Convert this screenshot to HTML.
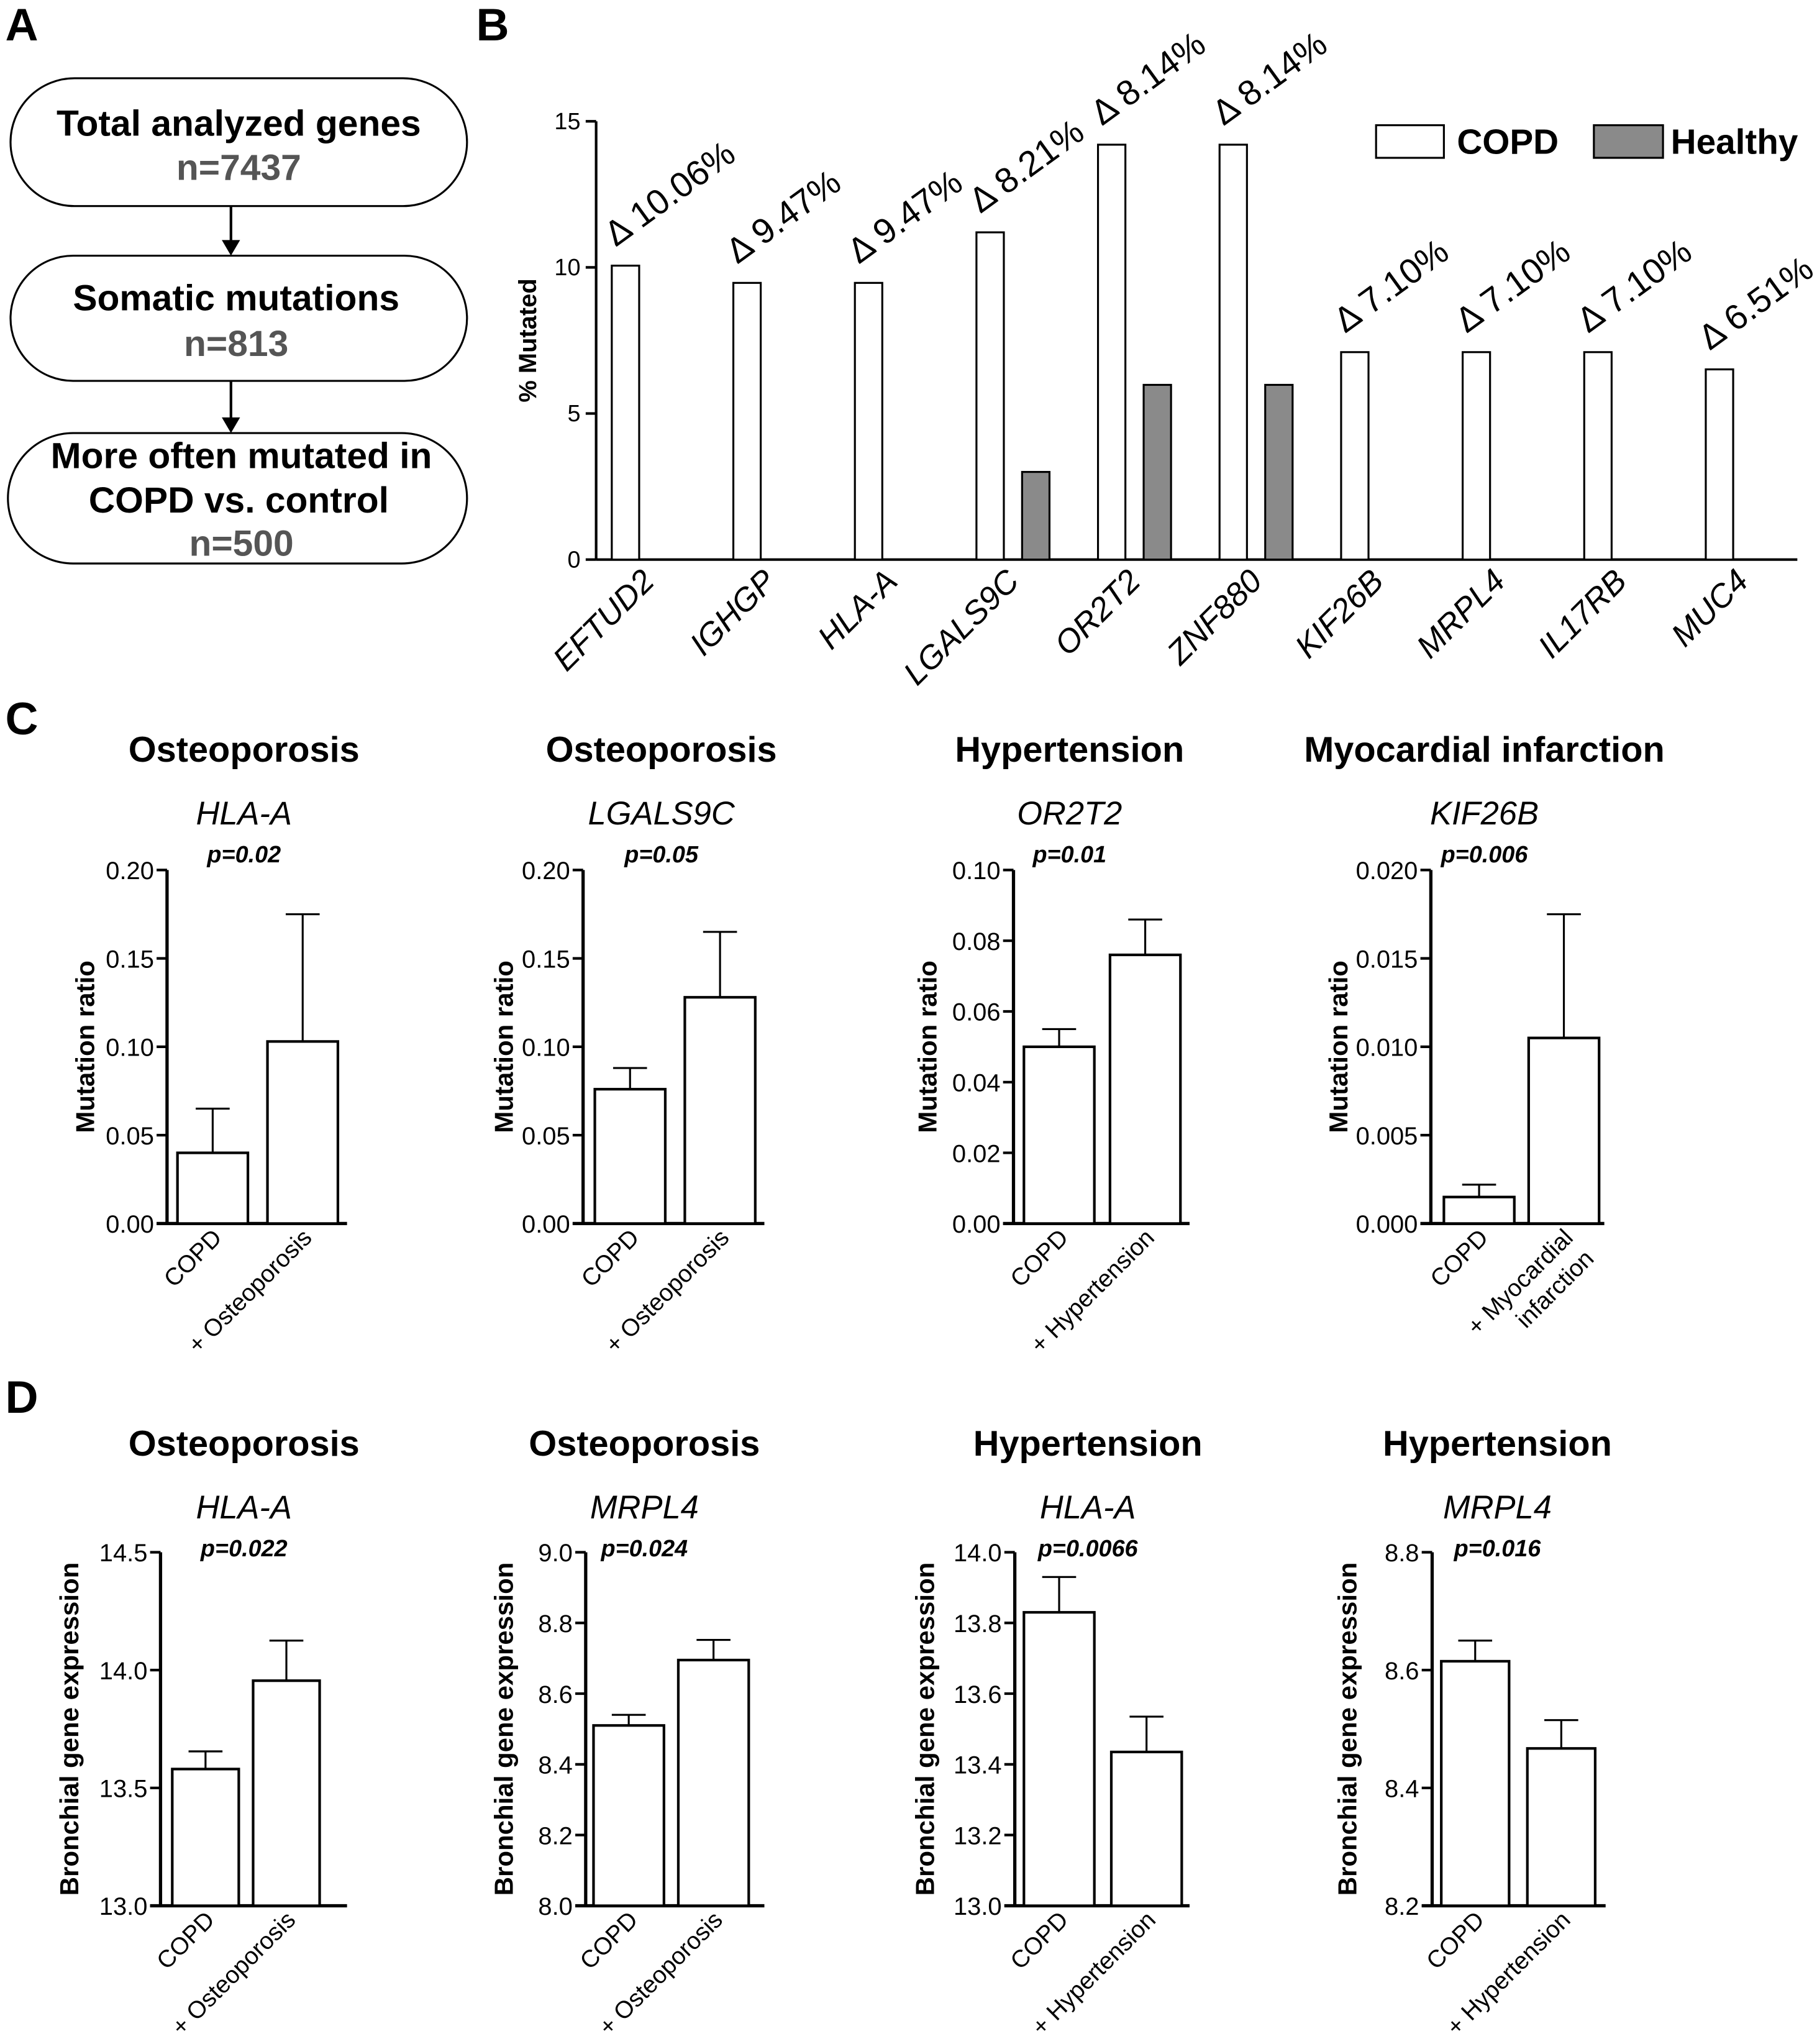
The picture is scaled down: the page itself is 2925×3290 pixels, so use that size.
<!DOCTYPE html>
<html><head><meta charset="utf-8"><style>
html,body{margin:0;padding:0;background:#fff}
svg{display:block}
text{font-family:"Liberation Sans",Arial,sans-serif;fill:#000}
</style></head><body>
<svg id="fig" xmlns="http://www.w3.org/2000/svg" width="2925" height="3290" viewBox="0 0 1393 1567">
<rect width="1393" height="1567" fill="#fff"/>
<g id="panelA">
<text x="4" y="31" font-size="35" font-weight="bold">A</text>
<rect x="8" y="60" width="350" height="98" rx="49" fill="#fff" stroke="#000" stroke-width="1.5"/>
<text x="183" y="104" font-size="28" font-weight="bold" text-anchor="middle">Total analyzed genes</text>
<text x="183" y="138" font-size="28" font-weight="bold" style="fill:#555" text-anchor="middle">n=7437</text>
<line x1="177" y1="158" x2="177" y2="188" stroke="#000" stroke-width="2"/>
<polygon points="170,184 184,184 177,196" fill="#000"/>
<rect x="8" y="196" width="350" height="96" rx="48" fill="#fff" stroke="#000" stroke-width="1.5"/>
<text x="181" y="238" font-size="28" font-weight="bold" text-anchor="middle">Somatic mutations</text>
<text x="181" y="273" font-size="28" font-weight="bold" style="fill:#555" text-anchor="middle">n=813</text>
<line x1="177" y1="292" x2="177" y2="324" stroke="#000" stroke-width="2"/>
<polygon points="170,320 184,320 177,332" fill="#000"/>
<rect x="6" y="332" width="352" height="100" rx="50" fill="#fff" stroke="#000" stroke-width="1.5"/>
<text x="185" y="359" font-size="28" font-weight="bold" text-anchor="middle">More often mutated in</text>
<text x="183" y="393" font-size="28" font-weight="bold" text-anchor="middle">COPD vs. control</text>
<text x="185" y="426" font-size="28" font-weight="bold" style="fill:#555" text-anchor="middle">n=500</text>
</g>
<g id="panelB"></g>
<g id="panelC"></g>
<g id="panelD"></g>
</svg>
<script>
// Panel B data
const bGenes = ["EFTUD2","IGHGP","HLA-A","LGALS9C","OR2T2","ZNF880","KIF26B","MRPL4","IL17RB","MUC4"];
const bCopd = [10.06,9.47,9.47,11.2,14.2,14.2,7.10,7.10,7.10,6.51];
const bHealthy = [0,0,0,3.0,5.98,5.98,0,0,0,0];
const bDelta = ["Δ 10.06%","Δ 9.47%","Δ 9.47%","Δ 8.21%","Δ 8.14%","Δ 8.14%","Δ 7.10%","Δ 7.10%","Δ 7.10%","Δ 6.51%"];
const bTicks = [0,5,10,15];

// Panel C data
const cTitles = ["Osteoporosis","Osteoporosis","Hypertension","Myocardial infarction"];
const cGenes = ["HLA-A","LGALS9C","OR2T2","KIF26B"];
const cP = ["p=0.02","p=0.05","p=0.01","p=0.006"];
const cCopd = [0.040,0.076,0.050,0.0015];
const cDis = [0.103,0.128,0.076,0.0105];
const cCopdErr = [0.065,0.088,0.055,0.0022];
const cDisErr = [0.175,0.165,0.086,0.0175];
const cMax = [0.20,0.20,0.10,0.020];
const cTickLabels = [["0.00","0.05","0.10","0.15","0.20"],["0.00","0.05","0.10","0.15","0.20"],["0.00","0.02","0.04","0.06","0.08","0.10"],["0.000","0.005","0.010","0.015","0.020"]];
const cXLabels = [["+ Osteoporosis"],["+ Osteoporosis"],["+ Hypertension"],["+ Myocardial","infarction"]];

// Panel D data
const dTitles = ["Osteoporosis","Osteoporosis","Hypertension","Hypertension"];
const dGenes = ["HLA-A","MRPL4","HLA-A","MRPL4"];
const dP = ["p=0.022","p=0.024","p=0.0066","p=0.016"];
const dCopd = [13.58,8.51,13.83,8.615];
const dDis = [13.955,8.695,13.435,8.467];
const dCopdErr = [13.655,8.54,13.93,8.65];
const dDisErr = [14.125,8.752,13.535,8.515];
const dMin = [13.0,8.0,13.0,8.2];
const dMax = [14.5,9.0,14.0,8.8];
const dTickLabels = [["13.0","13.5","14.0","14.5"],["8.0","8.2","8.4","8.6","8.8","9.0"],["13.0","13.2","13.4","13.6","13.8","14.0"],["8.2","8.4","8.6","8.8"]];
const dXLabels = ["+ Osteoporosis","+ Osteoporosis","+ Hypertension","+ Hypertension"];

const NS="http://www.w3.org/2000/svg";
function mk(parent,tag,attrs,txt){const e=document.createElementNS(NS,tag);for(const k in attrs)e.setAttribute(k,attrs[k]);if(txt!==undefined)e.textContent=txt;parent.appendChild(e);return e;}

// ---- Panel B ----
(function(){
const g=document.getElementById('panelB');
const ax=457,y0=429,yTop=93,yMax=15;
const ys=v=>y0-(v/yMax)*(y0-yTop);
const xs=i=>469+i*93.2;
let t=mk(g,'text',{x:365,y:31,'font-size':35,'font-weight':'bold'},'B');


let l=mk(g,'line',{x1:ax,y1:yTop,x2:ax,y2:y0,stroke:'#000','stroke-width':2});


l=mk(g,'line',{x1:ax,y1:y0,x2:1378,y2:y0,stroke:'#000','stroke-width':2});


bTicks.forEach(v=>{
 mk(g,'line',{x1:ax-8,y1:ys(v),x2:ax,y2:ys(v),stroke:'#000','stroke-width':2});
 const tt=mk(g,'text',{x:ax-12,y:ys(v)+6,'font-size':18,'text-anchor':'end'},String(v));
 
 
});
t=mk(g,'text',{x:0,y:0,'font-size':19,'font-weight':'bold','text-anchor':'middle',transform:'translate(411,261) rotate(-90)'},'% Mutated');


bGenes.forEach((gname,i)=>{
 const x=xs(i);
 const r=mk(g,'rect',{x:x,y:ys(bCopd[i]),width:21,height:y0-ys(bCopd[i]),fill:'#fff',stroke:'#000','stroke-width':1.5});
 
 
 if(bHealthy[i]>0){
  const h=mk(g,'rect',{x:x+35,y:ys(bHealthy[i]),width:21,height:y0-ys(bHealthy[i]),fill:'#8a8a8a',stroke:'#000','stroke-width':1.5});
  
  
 }
 const dl=mk(g,'text',{x:0,y:0,'font-size':27,transform:`translate(${x+3},${ys(bCopd[i])-14}) rotate(-36)`},bDelta[i]);
 
 
 const gl=mk(g,'text',{x:0,y:0,'font-size':25,'font-style':'italic','text-anchor':'end',transform:`translate(${x+34},${y0+18}) rotate(-45)`},gname);
 
 
});
let lg=mk(g,'rect',{x:1055,y:96,width:52,height:25,fill:'#fff',stroke:'#000','stroke-width':1.5});


t=mk(g,'text',{x:1117,y:118,'font-size':27,'font-weight':'bold'},'COPD');


lg=mk(g,'rect',{x:1222,y:96,width:53,height:25,fill:'#8a8a8a',stroke:'#000','stroke-width':1.5});


t=mk(g,'text',{x:1281,y:118,'font-size':27,'font-weight':'bold'},'Healthy');


})();

function smallChart(g,o){
 const ys=v=>o.y0-(v-o.min)/(o.max-o.min)*(o.y0-o.yTop);
 let t=mk(g,'text',{x:o.cx,y:o.titleY,'font-size':27.5,'font-weight':'bold','text-anchor':'middle'},o.title);
 
 
 t=mk(g,'text',{x:o.cx,y:o.titleY+48,'font-size':25,'font-style':'italic','text-anchor':'middle'},o.gene);
 
 
 t=mk(g,'text',{x:o.cx,y:o.titleY+77,'font-size':18,'font-style':'italic','font-weight':'bold','text-anchor':'middle'},o.p);
 
 
 let l=mk(g,'line',{x1:o.ax,y1:o.yTop,x2:o.ax,y2:o.y0,stroke:'#000','stroke-width':2.5});
 
 
 l=mk(g,'line',{x1:o.ax-8,y1:o.y0,x2:o.axEnd,y2:o.y0,stroke:'#000','stroke-width':2.5});
 
 
 const n=o.ticks.length;
 o.ticks.forEach((lab,k)=>{
  const v=o.min+(o.max-o.min)*k/(n-1);
  mk(g,'line',{x1:o.ax-8,y1:ys(v),x2:o.ax,y2:ys(v),stroke:'#000','stroke-width':2});
  const tt=mk(g,'text',{x:o.ax-10,y:ys(v)+7,'font-size':19,'text-anchor':'end'},lab);
  
  
 });
 t=mk(g,'text',{x:0,y:0,'font-size':20,'font-weight':'bold','text-anchor':'middle',transform:`translate(${o.ylx},${(o.yTop+o.y0)/2}) rotate(-90)`},o.ylab);
 
 
 const bars=[[o.b1,o.v1,o.e1,'bar-copd'],[o.b2,o.v2,o.e2,'bar-comorbidity']];
 bars.forEach(([bx,v,e,nm])=>{
  const mid=bx+o.bw/2;
  const el=mk(g,'line',{x1:mid,y1:ys(v),x2:mid,y2:ys(e),stroke:'#000','stroke-width':1.5});
  
  
  mk(g,'line',{x1:mid-13,y1:ys(e),x2:mid+13,y2:ys(e),stroke:'#000','stroke-width':1.5});
  const r=mk(g,'rect',{x:bx,y:ys(v),width:o.bw,height:o.y0-ys(v),fill:'#fff',stroke:'#000','stroke-width':2});
  
  
 });
 const c1=o.b1+o.bw/2+8, c2=o.b2+o.bw/2+8;
 t=mk(g,'text',{x:0,y:0,'font-size':18.5,'text-anchor':'end',transform:`translate(${c1},${o.y0+12}) rotate(-45)`},'COPD');
 
 
 o.xl.forEach((s,k)=>{
  const tt=mk(g,'text',{x:0,y:0,'font-size':18.5,'text-anchor':'end',transform:`translate(${c2+k*16},${o.y0+12+k*16}) rotate(-45)`},s);
  
  
 });
}

// ---- Panel C ----
(function(){
const g=document.getElementById('panelC');
let t=mk(g,'text',{x:4,y:563,'font-size':35,'font-weight':'bold'},'C');


const axs=[128,447,777,1097], axEnds=[266,586,912,1230], b1s=[136,456,785,1107], b2s=[205,525,851,1172], cxs=[187,507,820,1138], ylxs=[72,393,718,1033];
for(let i=0;i<4;i++){
 const sg=mk(g,'g',{});
 
 
 smallChart(sg,{ax:axs[i],axEnd:axEnds[i],y0:938,yTop:667,min:0,max:cMax[i],ticks:cTickLabels[i],b1:b1s[i],b2:b2s[i],bw:54,
  v1:cCopd[i],v2:cDis[i],e1:cCopdErr[i],e2:cDisErr[i],cx:cxs[i],titleY:584,title:cTitles[i],gene:cGenes[i],p:cP[i],ylx:ylxs[i],ylab:'Mutation ratio',xl:cXLabels[i]});
}
})();

// ---- Panel D ----
(function(){
const g=document.getElementById('panelD');
let t=mk(g,'text',{x:4,y:1083,'font-size':35,'font-weight':'bold'},'D');


const axs=[123,449,778,1098], axEnds=[266,586,912,1231], b1s=[132,455,785,1105], b2s=[194,520,852,1171], bws=[51,54,54,52], cxs=[187,494,834,1148], ylxs=[60,393,716,1040];
for(let i=0;i<4;i++){
 const sg=mk(g,'g',{});
 
 
 smallChart(sg,{ax:axs[i],axEnd:axEnds[i],y0:1461,yTop:1190,min:dMin[i],max:dMax[i],ticks:dTickLabels[i],b1:b1s[i],b2:b2s[i],bw:bws[i],
  v1:dCopd[i],v2:dDis[i],e1:dCopdErr[i],e2:dDisErr[i],cx:cxs[i],titleY:1116,title:dTitles[i],gene:dGenes[i],p:dP[i],ylx:ylxs[i],ylab:'Bronchial gene expression',xl:[dXLabels[i]]});
}
})();
</script>
</body></html>
